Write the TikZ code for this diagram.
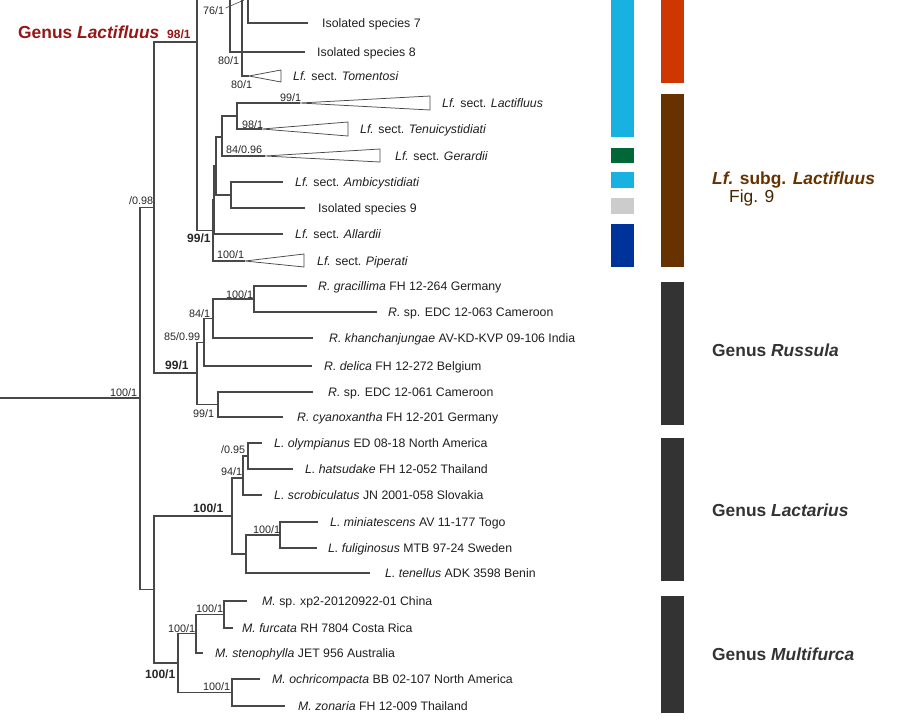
\documentclass[tikz,border=0pt]{standalone}
\usepackage{fontspec}
\setmainfont{Liberation Sans}
\usetikzlibrary{arrows.meta}
\definecolor{treegray}{RGB}{72,72,72}
\definecolor{lblue}{RGB}{23,177,226}
\definecolor{dgreen}{RGB}{0,104,56}
\definecolor{lgray}{RGB}{204,204,204}
\definecolor{dblue}{RGB}{0,51,153}
\definecolor{ored}{RGB}{207,55,0}
\definecolor{brownc}{RGB}{102,51,0}
\definecolor{dgray}{RGB}{51,51,51}
\definecolor{dred}{RGB}{150,22,22}
\tikzset{
  br/.style={draw=treegray, line width=1.05pt},
  tri/.style={draw=treegray, line width=0.75pt, fill=white},
  sp/.style={font=\fontsize{12.3}{14}\selectfont, anchor=base west, inner sep=0pt, text=black!88},
  sup/.style={font=\fontsize{10.8}{12}\selectfont, anchor=base west, inner sep=0pt, text=black!85},
  supb/.style={font=\bfseries\fontsize{12}{14}\selectfont, anchor=base west, inner sep=0pt, text=black!85},
  big/.style={font=\bfseries\fontsize{17.4}{20}\selectfont, anchor=base west, inner sep=0pt},
}
\newcommand\tipleaf[5]{%
  \coordinate (#1) at (#2,#3);
  \node[sp] (#1l) at (#4,#3+4.4) {#5};}
\newcommand\cladetri[8]{%
  \coordinate (#1) at (#2,#3);
  \draw[tri] (#1) -- (#4,#5) -- (#4,#6) -- cycle;
  \node[sp] (#1l) at (#7,#3+4.4) {#8};}
\begin{document}
\begin{tikzpicture}[x=1pt,y=-1pt]
\useasboundingbox (0,0) rectangle (919,721);
\clip (0,0) rectangle (919,721);

% ---------- internal node coordinates ----------
\coordinate (r0) at (0,398);
\coordinate (rt) at (140,398);
\coordinate (A) at (154,207.5);
\coordinate (B) at (154,589.5);
\coordinate (L0) at (197,42);
\coordinate (N1) at (230,-20);
\coordinate (N2) at (242,-20);
\coordinate (N3) at (248,-20);
\coordinate (S0) at (213,230.25);
\coordinate (S1) at (214,199.5);
\coordinate (S2) at (216,166);
\coordinate (S3) at (222,137);
\coordinate (S4) at (237,116);
\coordinate (S5) at (231,195);
\coordinate (Rus) at (197,373);
\coordinate (R1) at (204,342.25);
\coordinate (R2) at (213,318.5);
\coordinate (R3) at (254,299);
\coordinate (R4) at (218,404.5);
\coordinate (Lac) at (232,516);
\coordinate (La1) at (243,478);
\coordinate (La2) at (248,456);
\coordinate (La3) at (246,554);
\coordinate (La4) at (280,535);
\coordinate (Mul) at (178,663);
\coordinate (M1) at (196,633.75);
\coordinate (M2) at (224,614.5);
\coordinate (M3) at (232,692.5);

% ---------- leaves ----------
\tipleaf{iso7}{308}{23}{322}{Isolated species 7}
\tipleaf{iso8}{305}{52}{317}{Isolated species 8}
\tipleaf{amb}{283}{182}{295}{\textit{Lf.} sect. \textit{Ambicystidiati}}
\tipleaf{iso9}{305}{208}{318}{Isolated species 9}
\tipleaf{all}{283}{234}{295}{\textit{Lf.} sect. \textit{Allardii}}
\tipleaf{grac}{307}{286}{318}{\textit{R. gracillima} FH 12-264 Germany}
\tipleaf{edcA}{377}{312}{388}{\textit{R.} sp. EDC 12-063 Cameroon}
\tipleaf{khan}{313}{338}{329}{\textit{R. khanchanjungae} AV-KD-KVP 09-106 India}
\tipleaf{deli}{312}{366}{324}{\textit{R. delica} FH 12-272 Belgium}
\tipleaf{edcB}{313}{392}{328}{\textit{R.} sp. EDC 12-061 Cameroon}
\tipleaf{cyan}{283}{417}{297}{\textit{R. cyanoxantha} FH 12-201 Germany}
\tipleaf{olym}{262}{443}{274}{\textit{L. olympianus} ED 08-18 North America}
\tipleaf{hats}{293}{469}{305}{\textit{L. hatsudake} FH 12-052 Thailand}
\tipleaf{scro}{262}{495}{274}{\textit{L. scrobiculatus} JN 2001-058 Slovakia}
\tipleaf{mini}{318}{522}{330}{\textit{L. miniatescens} AV 11-177 Togo}
\tipleaf{fuli}{317}{548}{328}{\textit{L. fuliginosus} MTB 97-24 Sweden}
\tipleaf{tene}{370}{573}{385}{\textit{L. tenellus} ADK 3598 Benin}
\tipleaf{xp}{247}{601}{262}{\textit{M.} sp. xp2-20120922-01 China}
\tipleaf{furc}{233}{628}{242}{\textit{M. furcata} RH 7804 Costa Rica}
\tipleaf{sten}{203}{653}{215}{\textit{M. stenophylla} JET 956 Australia}
\tipleaf{ochr}{260}{679}{272}{\textit{M. ochricompacta} BB 02-107 North America}
\tipleaf{zona}{285}{706}{298}{\textit{M. zonaria} FH 12-009 Thailand}

% ---------- collapsed clades ----------
\cladetri{tom}{249}{76}{281}{70}{82}{293}{\textit{Lf.} sect. \textit{Tomentosi}}
\cladetri{lact}{300}{103}{430}{96}{110}{442}{\textit{Lf.} sect. \textit{Lactifluus}}
\cladetri{tenu}{262}{129}{348}{122}{136}{360}{\textit{Lf.} sect. \textit{Tenuicystidiati}}
\cladetri{gera}{265}{156}{380}{149}{162}{395}{\textit{Lf.} sect. \textit{Gerardii}}
\cladetri{pipe}{245}{261}{304}{254}{267}{317}{\textit{Lf.} sect. \textit{Piperati}}

% ---------- branches ----------
\draw[br] (r0) -- (rt);
\draw[br] (rt) |- (A);
\draw[br] (rt) |- (B);
\draw[br] (A) |- (L0);
\draw[br] (A) |- (Rus);
\draw[br] (L0) |- (N1);
\draw[br] (N1) |- (iso8);
\draw[br] (N2) |- (tom);
\draw[br] (N3) |- (iso7);
\draw[br] (L0) |- (S0);
\draw[br] (S0) |- (S1);
\draw[br] (S0) |- (pipe);
\draw[br] (S1) |- (S2);
\draw[br] (S1) |- (all);
\draw[br] (S2) |- (S3);
\draw[br] (S2) |- (S5);
\draw[br] (S3) |- (S4);
\draw[br] (S3) |- (gera);
\draw[br] (S4) |- (lact);
\draw[br] (S4) |- (tenu);
\draw[br] (S5) |- (amb);
\draw[br] (S5) |- (iso9);
\draw[br] (Rus) |- (R1);
\draw[br] (Rus) |- (R4);
\draw[br] (R1) |- (R2);
\draw[br] (R1) |- (deli);
\draw[br] (R2) |- (R3);
\draw[br] (R2) |- (khan);
\draw[br] (R3) |- (grac);
\draw[br] (R3) |- (edcA);
\draw[br] (R4) |- (edcB);
\draw[br] (R4) |- (cyan);
\draw[br] (B) |- (Lac);
\draw[br] (B) |- (Mul);
\draw[br] (Lac) |- (La1);
\draw[br] (Lac) |- (La3);
\draw[br] (La1) |- (La2);
\draw[br] (La1) |- (scro);
\draw[br] (La2) |- (olym);
\draw[br] (La2) |- (hats);
\draw[br] (La3) |- (La4);
\draw[br] (La3) |- (tene);
\draw[br] (La4) |- (mini);
\draw[br] (La4) |- (fuli);
\draw[br] (Mul) |- (M1);
\draw[br] (Mul) |- (M3);
\draw[br] (M1) |- (M2);
\draw[br] (M1) |- (sten);
\draw[br] (M2) |- (xp);
\draw[br] (M2) |- (furc);
\draw[br] (M3) |- (ochr);
\draw[br] (M3) |- (zona);

% ---------- support values ----------
\node[sup] (s76) at (203,14) {76/1};
\coordinate (s76end) at (244,0);
\draw[treegray, line width=0.6pt, -{Stealth[length=3pt,width=2.5pt]}] (s76.east) ++(1,-2) -- (s76end);
\node[sup] (s80a) at (218,64) {80/1};
\node[sup] (s80b) at (231,88) {80/1};
\node[sup] (s99a) at (280,101) {99/1};
\node[sup] (s98a) at (242,128) {98/1};
\node[sup] (s84a) at (226,153) {84/0.96};
\node[supb] (s99b) at (187,242) {99/1};
\node[sup] (s100p) at (217,258) {100/1};
\node[sup] (s098) at (129,204) {/0.98};
\node[sup] (s100r) at (110,396) {100/1};
\node[sup] (s100g) at (226,298) {100/1};
\node[sup] (s84r) at (189,317) {84/1};
\node[sup] (s85) at (164,340) {85/0.99};
\node[supb] (s99r) at (165,369) {99/1};
\node[sup] (s99c) at (193,417) {99/1};
\node[sup] (s095) at (221,453) {/0.95};
\node[sup] (s94) at (221,475) {94/1};
\node[supb] (s100L) at (193,512) {100/1};
\node[sup] (s100m) at (253,533) {100/1};
\node[sup] (s100x) at (196,612) {100/1};
\node[sup] (s100s) at (168,632) {100/1};
\node[supb] (s100M) at (145,678) {100/1};
\node[sup] (s100o) at (203,690) {100/1};

% ---------- genus Lactifluus label ----------
\node[big, text=dred] (gLf) at (18,38) {Genus \textit{Lactifluus}};
\node[supb, text=dred] (s98red) at (167,38) {98/1};

% ---------- bars ----------
\fill[lblue] (611,-5) rectangle (634,137);
\fill[dgreen] (611,148) rectangle (634,163);
\fill[lblue] (611,172) rectangle (634,188);
\fill[lgray] (611,198) rectangle (634,214);
\fill[dblue] (611,224) rectangle (634,267);
\fill[ored] (661,-5) rectangle (684,83);
\fill[brownc] (661,94) rectangle (684,267);
\fill[dgray] (661,282) rectangle (684,425);
\fill[dgray] (661,438) rectangle (684,581);
\fill[dgray] (661,596) rectangle (684,713);

% ---------- group labels ----------
\node[big, text=brownc] (gsub) at (712,184) {\textit{Lf.} subg. \textit{Lactifluus}};
\node[font=\fontsize{17.4}{20}\selectfont, anchor=base west, inner sep=0pt, text=brownc!70!black] (gfig) at (729,202) {Fig. 9};
\node[big, text=dgray] (gRu) at (712,356) {Genus \textit{Russula}};
\node[big, text=dgray] (gLa) at (712,516) {Genus \textit{Lactarius}};
\node[big, text=dgray] (gMu) at (712,660) {Genus \textit{Multifurca}};
\end{tikzpicture}
\end{document}
